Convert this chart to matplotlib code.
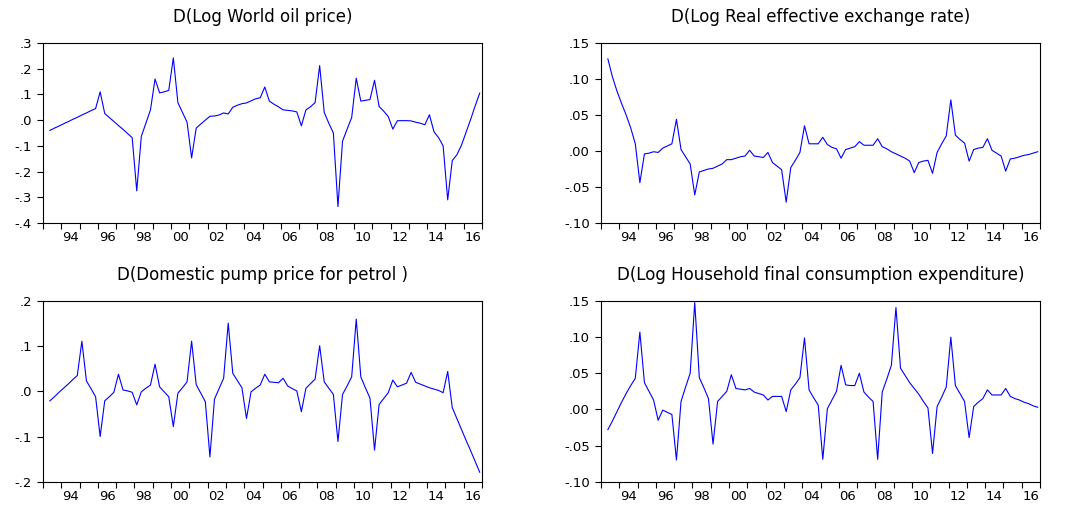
import matplotlib
matplotlib.use("Agg")
import matplotlib.pyplot as plt
import numpy as np

plt.rcParams['font.family'] = ['DejaVu Sans']

# Quarterly observations 1993Q2 .. 2016Q4 (95 obs)
start_year = 1993
first_quarter = 2
n_obs = 95

oil = [-0.040, -0.031, -0.023, -0.014, -0.006, 0.003, 0.011, 0.020, 0.028, 0.037,
       0.045, 0.110, 0.026, 0.010, -0.005, -0.021, -0.036, -0.052, -0.068, -0.275,
       -0.063, -0.012, 0.040, 0.160, 0.106, 0.110, 0.116, 0.242, 0.068, 0.030,
       -0.008, -0.147, -0.031, -0.015, 0.000, 0.015, 0.016, 0.020, 0.028, 0.024,
       0.050, 0.058, 0.064, 0.067, 0.075, 0.083, 0.087, 0.129, 0.074, 0.062,
       0.052, 0.040, 0.038, 0.036, 0.032, -0.022, 0.040, 0.052, 0.068, 0.212,
       0.030, -0.012, -0.050, -0.336, -0.082, -0.035, 0.010, 0.163, 0.074, 0.077,
       0.080, 0.155, 0.053, 0.035, 0.014, -0.035, -0.002, -0.002, -0.002, -0.003,
       -0.008, -0.012, -0.018, 0.021, -0.045, -0.068, -0.100, -0.310, -0.157, -0.135,
       -0.098, -0.048, 0.002, 0.055, 0.105]

reer = [0.128, 0.103, 0.083, 0.066, 0.050, 0.032, 0.010, -0.044, -0.004, -0.003,
        -0.001, -0.002, 0.004, 0.007, 0.010, 0.044, 0.002, -0.008, -0.018, -0.061,
        -0.029, -0.027, -0.025, -0.024, -0.021, -0.018, -0.012, -0.012, -0.010, -0.008,
        -0.007, 0.001, -0.007, -0.008, -0.009, -0.002, -0.016, -0.021, -0.026, -0.071,
        -0.023, -0.013, -0.002, 0.035, 0.010, 0.010, 0.010, 0.019, 0.009, 0.005,
        0.003, -0.010, 0.002, 0.004, 0.006, 0.013, 0.008, 0.008, 0.008, 0.017,
        0.006, 0.003, -0.001, -0.004, -0.007, -0.010, -0.014, -0.030, -0.016, -0.014,
        -0.013, -0.031, -0.002, 0.010, 0.021, 0.071, 0.022, 0.016, 0.011, -0.014,
        0.002, 0.004, 0.005, 0.017, 0.001, -0.003, -0.007, -0.028, -0.011, -0.010,
        -0.008, -0.006, -0.005, -0.003, -0.001]

petrol = [-0.021, -0.012, -0.002, 0.007, 0.016, 0.026, 0.035, 0.111, 0.023, 0.006,
          -0.012, -0.100, -0.021, -0.012, -0.002, 0.038, 0.003, 0.001, -0.002, -0.030,
          -0.001, 0.007, 0.014, 0.060, 0.010, -0.001, -0.012, -0.078, -0.004, 0.008,
          0.021, 0.111, 0.015, -0.004, -0.023, -0.145, -0.017, 0.006, 0.029, 0.151,
          0.040, 0.024, 0.008, -0.060, -0.001, 0.007, 0.014, 0.038, 0.021, 0.020,
          0.019, 0.029, 0.012, 0.006, 0.001, -0.045, 0.007, 0.017, 0.027, 0.101,
          0.021, 0.007, -0.007, -0.111, -0.007, 0.012, 0.032, 0.160, 0.032, 0.008,
          -0.015, -0.130, -0.029, -0.016, -0.003, 0.025, 0.010, 0.014, 0.018, 0.042,
          0.020, 0.016, 0.012, 0.008, 0.005, 0.002, -0.003, 0.044, -0.036, -0.060,
          -0.084, -0.108, -0.131, -0.155, -0.179]

consumption = [-0.028, -0.016, -0.003, 0.010, 0.022, 0.033, 0.043, 0.107, 0.037, 0.025,
               0.013, -0.015, -0.001, -0.004, -0.007, -0.070, 0.011, 0.031, 0.050, 0.148,
               0.044, 0.030, 0.015, -0.048, 0.011, 0.018, 0.025, 0.048, 0.029, 0.028,
               0.027, 0.029, 0.024, 0.022, 0.020, 0.013, 0.018, 0.018, 0.018, -0.003,
               0.027, 0.035, 0.044, 0.099, 0.027, 0.016, 0.006, -0.069, 0.001, 0.013,
               0.025, 0.061, 0.034, 0.033, 0.033, 0.050, 0.024, 0.017, 0.011, -0.069,
               0.024, 0.042, 0.061, 0.141, 0.057, 0.047, 0.037, 0.029, 0.021, 0.011,
               0.002, -0.061, 0.004, 0.017, 0.031, 0.100, 0.033, 0.022, 0.011, -0.039,
               0.004, 0.010, 0.015, 0.027, 0.020, 0.020, 0.020, 0.029, 0.018, 0.015,
               0.013, 0.010, 0.008, 0.005, 0.003]

titles = ["D(Log World oil price)",
          "D(Log Real effective exchange rate)",
          "D(Domestic pump price for petrol )",
          "D(Log Household final consumption expenditure)"]

y_ticks = [[0.3, 0.2, 0.1, 0.0, -0.1, -0.2, -0.3, -0.4],
           [0.15, 0.10, 0.05, 0.00, -0.05, -0.10],
           [0.2, 0.1, 0.0, -0.1, -0.2],
           [0.15, 0.10, 0.05, 0.00, -0.05, -0.10]]
y_decimals = [1, 2, 1, 2]
x_labels = ["94", "96", "98", "00", "02", "04", "06", "08", "10", "12", "14", "16"]
x_label_years = [1994, 1996, 1998, 2000, 2002, 2004, 2006, 2008, 2010, 2012, 2014, 2016]

series = [oil, reer, petrol, consumption]

# time axis: centre of each quarter
t = start_year + (first_quarter - 1) / 4 + 0.125 + 0.25 * np.arange(n_obs)

W, H = 1078, 511
fig = plt.figure(figsize=(W / 100, H / 100), dpi=100)
boxes = [(43, 43, 482, 223), (601, 43, 1040, 223),
         (43, 301, 482, 481.7), (601, 301, 1040, 481.7)]

def fmt(v, d):
    s = f"{v:.{d}f}"
    s = s.replace("0.", ".", 1)
    return s

for k in range(4):
    l, tp, r, b = boxes[k]
    ax = fig.add_axes([l / W, 1 - b / H, (r - l) / W, (b - tp) / H])
    ax.plot(t, series[k], color=(0, 0, 1), lw=0.8)
    ax.set_xlim(1993, 2017)
    ax.set_ylim(min(y_ticks[k]), max(y_ticks[k]))
    ax.set_yticks(y_ticks[k])
    ax.set_yticklabels([fmt(v, y_decimals[k]) for v in y_ticks[k]])
    ax.set_xticks(np.arange(1993, 2018))
    ax.set_xticklabels([])
    ax.set_xticks([y + 0.5 for y in x_label_years], minor=True)
    ax.set_xticklabels(x_labels, minor=True)
    ax.tick_params(axis='x', which='major', direction='out', length=4, width=0.8, color='black')
    ax.tick_params(axis='x', which='minor', length=0, pad=6, labelsize=9.5)
    ax.tick_params(axis='y', direction='out', length=4, width=0.8, pad=4, labelsize=9.5)
    for sp in ax.spines.values():
        sp.set_linewidth(0.8)
    ax.set_title(titles[k], fontsize=12, pad=15)

fig.savefig("out.png", dpi=100)
